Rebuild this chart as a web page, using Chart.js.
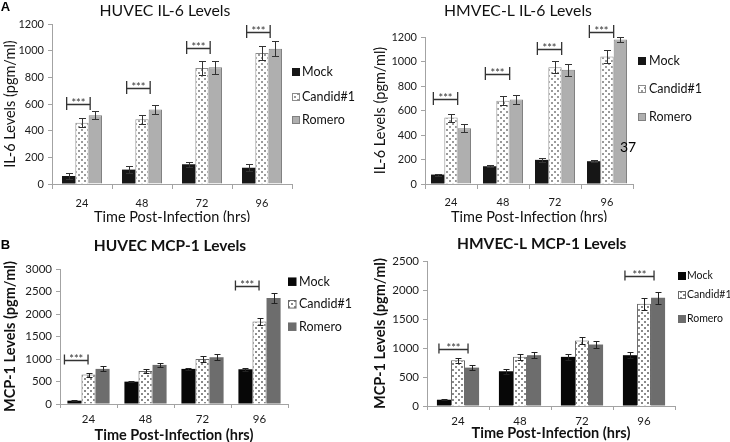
<!DOCTYPE html>
<html><head><meta charset="utf-8">
<script src="https://cdn.jsdelivr.net/npm/chart.js@4"></script>
<style>
html,body{margin:0;padding:0;background:#fff;}
#wrap{position:relative;width:730px;height:442px;overflow:hidden;background:#fff;}
canvas{position:absolute;display:block;}
</style></head><body>
<div id="wrap">
<canvas id="cA1" width="365" height="222" style="left:0;top:0"></canvas>
<canvas id="cA2" width="365" height="222" style="left:365px;top:0"></canvas>
<canvas id="cB1" width="365" height="220" style="left:0;top:222px"></canvas>
<canvas id="cB2" width="365" height="220" style="left:365px;top:222px"></canvas>
</div>
<script>
const FONT = 'Lato, "Open Sans", sans-serif';
const categories = ['24','48','72','96'];
const seriesNames = ['Mock','Candid#1','Romero'];
const panelTitles = ['HUVEC IL-6 Levels','HMVEC-L IL-6 Levels','HUVEC MCP-1 Levels','HMVEC-L MCP-1 Levels'];
const xAxisTitle = 'Time Post-Infection (hrs)';
const il6AxisTitle = 'IL-6 Levels (pgm/ml)';
const mcp1AxisTitle = 'MCP-1 Levels (pgm/ml)';
const panelLetters = ['A','B'];
const strayLabel = '37';
const sigMark = '***';

// Panel A (left): HUVEC IL-6
const huvecIL6Mock   = [60, 108, 148, 122];
const huvecIL6Candid = [460, 485, 870, 982];
const huvecIL6Romero = [515, 558, 875, 1015];
const huvecIL6MockErr   = [22, 25, 20, 28];
const huvecIL6CandidErr = [35, 32, 50, 55];
const huvecIL6RomeroErr = [30, 35, 50, 58];
const huvecIL6SigCats   = [0, 1, 2, 3];
const huvecIL6SigLevels = [600, 720, 1020, 1140];

// Panel A (right): HMVEC-L IL-6
const hmvecIL6Mock   = [77, 145, 197, 186];
const hmvecIL6Candid = [542, 680, 953, 1041];
const hmvecIL6Romero = [455, 690, 932, 1180];
const hmvecIL6MockErr   = [8, 10, 15, 10];
const hmvecIL6CandidErr = [33, 35, 47, 55];
const hmvecIL6RomeroErr = [33, 38, 48, 22];
const hmvecIL6SigCats   = [0, 1, 2, 3];
const hmvecIL6SigLevels = [693, 899, 1104, 1241];

// Panel B (left): HUVEC MCP-1
const huvecMCP1Mock   = [74, 497, 780, 772];
const huvecMCP1Candid = [655, 735, 1002, 1834];
const huvecMCP1Romero = [780, 869, 1039, 2353];
const huvecMCP1MockErr   = [10, 15, 30, 30];
const huvecMCP1CandidErr = [45, 50, 65, 85];
const huvecMCP1RomeroErr = [55, 50, 65, 110];
const huvecMCP1SigCats   = [0, 3];
const huvecMCP1SigLevels = [980, 2630];

// Panel B (right): HMVEC-L MCP-1
const hmvecMCP1Mock   = [108, 599, 847, 876];
const hmvecMCP1Candid = [789, 847, 1129, 1763];
const hmvecMCP1Romero = [662, 876, 1060, 1866];
const hmvecMCP1MockErr   = [5, 45, 50, 55];
const hmvecMCP1CandidErr = [40, 55, 62, 100];
const hmvecMCP1RomeroErr = [40, 48, 58, 100];
const hmvecMCP1SigCats   = [0, 3];
const hmvecMCP1SigLevels = [991, 2241];

// y-axis ranges [min, max, step]
const il6Range = [0, 1200, 200];
const huvecMCP1Range = [0, 3000, 500];
const hmvecMCP1Range = [0, 2500, 500];

function makePattern(bg, dot){
  const c = document.createElement('canvas'); c.width = 6; c.height = 6;
  const x = c.getContext('2d');
  x.fillStyle = bg; x.fillRect(0,0,6,6);
  x.fillStyle = dot; x.fillRect(0,0,2,2); x.fillRect(3,3,2,2);
  return x.createPattern(c, 'repeat');
}

const decor = {
  id: 'decor',
  afterDatasetsDraw(chart, args, o){
    const ctx = chart.ctx, y = chart.scales.y;
    ctx.save();
    // error bars
    o.errors.forEach((errs, di) => {
      const meta = chart.getDatasetMeta(di);
      meta.data.forEach((bar, i) => {
        const v = chart.data.datasets[di].data[i], e = errs[i];
        const yt = Math.round(y.getPixelForValue(v + e)) + 0.5;
        const yb = Math.round(y.getPixelForValue(Math.max(0, v - e))) + 0.5;
        const x = Math.round(bar.x) + 0.5;
        ctx.strokeStyle = o.errColor; ctx.lineWidth = 1;
        ctx.beginPath();
        ctx.moveTo(x, yt); ctx.lineTo(x, yb);
        ctx.moveTo(x - o.cap, yt); ctx.lineTo(x + o.cap, yt);
        ctx.moveTo(x - o.cap, yb); ctx.lineTo(x + o.cap, yb);
        ctx.stroke();
      });
    });
    // significance brackets
    const sg = o.sig;
    sg.cats.forEach((ci, k) => {
      const m = chart.getDatasetMeta(0).data[ci], c = chart.getDatasetMeta(1).data[ci];
      const x1 = m.x + sg.dx1, x2 = c.x + c.width / 2 + sg.dx2;
      const ly = Math.round(y.getPixelForValue(sg.levels[k])) + 0.5;
      ctx.strokeStyle = sg.color; ctx.lineWidth = 1.3;
      ctx.beginPath();
      ctx.moveTo(x1, ly); ctx.lineTo(x2, ly);
      ctx.moveTo(x1, ly - sg.up); ctx.lineTo(x1, ly + sg.down);
      ctx.moveTo(x2, ly - sg.up); ctx.lineTo(x2, ly + sg.down);
      ctx.stroke();
      ctx.fillStyle = sg.color; ctx.font = sg.font;
      ctx.textAlign = 'center'; ctx.textBaseline = 'alphabetic';
      ctx.fillText(sigMark, (x1 + x2) / 2, ly + sg.textDy);
    });
    ctx.restore();
  },
  afterDraw(chart, args, o){
    const ctx = chart.ctx;
    ctx.save();
    // title
    ctx.fillStyle = '#111'; ctx.font = o.title.font;
    ctx.textAlign = 'center'; ctx.textBaseline = 'middle';
    ctx.fillText(o.title.text, o.title.x, o.title.y);
    // legend
    const L = o.legend;
    chart.data.datasets.forEach((ds, i) => {
      const cy = L.ys[i];
      ctx.fillStyle = ds.backgroundColor;
      ctx.fillRect(L.sx, cy - L.size / 2, L.size, L.size);
      if (ds.borderWidth) {
        ctx.strokeStyle = ds.borderColor; ctx.lineWidth = 1;
        ctx.strokeRect(L.sx + 0.5, cy - L.size / 2 + 0.5, L.size - 1, L.size - 1);
      }
      ctx.fillStyle = '#111'; ctx.font = L.font;
      ctx.textAlign = 'left'; ctx.textBaseline = 'middle';
      ctx.fillText(ds.label, L.tx, cy);
    });
    // extra texts
    (o.extra || []).forEach(t => {
      ctx.fillStyle = '#000'; ctx.font = t.font;
      ctx.textAlign = 'center'; ctx.textBaseline = 'middle';
      ctx.fillText(t.text, t.x, t.y);
    });
    ctx.restore();
  }
};

function panel(id, p){
  const datasets = p.values.map((vals, k) => ({
    label: seriesNames[k], data: vals,
    backgroundColor: p.fills[k], borderColor: p.borders[k], borderWidth: p.bw[k],
    categoryPercentage: p.catPct, barPercentage: 1, borderSkipped: 'start'
  }));
  const axisColor = '#a3a3a3';
  return new Chart(document.getElementById(id), {
    type: 'bar',
    data: { labels: categories, datasets },
    options: {
      responsive: false, animation: false, devicePixelRatio: 1,
      layout: { padding: { left: 0, right: p.padR, top: p.padT, bottom: 0 } },
      plugins: {
        legend: { display: false }, tooltip: { enabled: false }, title: { display: false },
        decor: {
          errors: p.errors, errColor: p.errColor, cap: p.cap,
          sig: p.sig, title: p.title, legend: p.legend, extra: p.extra
        }
      },
      scales: {
        x: {
          grid: { offset: true, drawOnChartArea: false, tickLength: p.xTick, color: axisColor },
          border: { color: axisColor },
          ticks: { font: p.tickFont, color: '#1a1a1a', padding: p.xPad },
          title: { display: true, text: xAxisTitle, font: p.axisFont, color: '#111', padding: { top: 0, bottom: p.xTitlePb } },
          afterFit(s){ s.height = p.xH; }
        },
        y: {
          min: p.range[0], max: p.range[1],
          grid: { drawOnChartArea: false, tickLength: 4, color: axisColor },
          border: { color: axisColor },
          ticks: { stepSize: p.range[2], font: p.tickFont, color: '#1a1a1a', padding: 4, callback: v => String(v) },
          title: { display: true, text: p.yTitle, font: p.axisFont, color: '#111', padding: { top: p.yTitlePt, bottom: 0 } },
          afterFit(s){ s.width = p.yW; }
        }
      }
    },
    plugins: [decor]
  });
}

const candidA = makePattern('#ffffff', '#9a9a9a');
const candidB = makePattern('#ffffff', '#8a8a8a');
const fillsA = ['#161616', candidA, '#afafaf'];
const bordersA = ['#161616', '#8c8c8c', '#808080'];
const fillsB = ['#070707', candidB, '#6d6d6d'];
const bordersB = ['#070707', '#6a6a6a', '#6d6d6d'];

const tickA = { family: FONT, size: 11 };
const axisA = { family: FONT, size: 14.5 };
const tickB = { family: FONT, size: 11.5 };
const axisB = { family: FONT, size: 14.5, weight: 'bold' };

panel('cA1', {
  values: [huvecIL6Mock, huvecIL6Candid, huvecIL6Romero],
  errors: [huvecIL6MockErr, huvecIL6CandidErr, huvecIL6RomeroErr],
  fills: fillsA, borders: bordersA, bw: [0, 1, 1], errColor: '#333', cap: 3.5,
  catPct: 0.667, range: il6Range, yTitle: il6AxisTitle,
  yW: 52, padR: 73, padT: 24, xH: 38, xTick: 5, xPad: 8, xTitlePb: -4, yTitlePt: 1.3,
  tickFont: tickA, axisFont: axisA,
  sig: { cats: huvecIL6SigCats, levels: huvecIL6SigLevels, dx1: -2, dx2: 1.5, up: 7.5, down: 5.5, textDy: 2, color: '#333', font: '11px ' + FONT },
  title: { text: panelTitles[0], x: 165, y: 10.5, font: '15.8px ' + FONT },
  legend: { sx: 292, tx: 302, ys: [72, 97, 120], size: 8, font: '12.5px ' + FONT },
  extra: [{ text: panelLetters[0], x: 5.5, y: 7, font: 'bold 13px "Liberation Sans", Arial, sans-serif' }]
});

panel('cA2', {
  values: [hmvecIL6Mock, hmvecIL6Candid, hmvecIL6Romero],
  errors: [hmvecIL6MockErr, hmvecIL6CandidErr, hmvecIL6RomeroErr],
  fills: fillsA, borders: bordersA, bw: [0, 1, 1], errColor: '#333', cap: 3.5,
  catPct: 0.77, range: il6Range, yTitle: il6AxisTitle,
  yW: 60, padR: 97, padT: 37, xH: 38, xTick: 5, xPad: 7, xTitlePb: -4, yTitlePt: 6.3,
  tickFont: tickA, axisFont: axisA,
  sig: { cats: hmvecIL6SigCats, levels: hmvecIL6SigLevels, dx1: -4.3, dx2: 0, up: 7.5, down: 5.5, textDy: 2, color: '#333', font: '11px ' + FONT },
  title: { text: panelTitles[1], x: 153, y: 11, font: '15.8px ' + FONT },
  legend: { sx: 273, tx: 284, ys: [61, 89, 117], size: 8, font: '12.5px ' + FONT },
  extra: [{ text: strayLabel, x: 263, y: 147, font: '14px ' + FONT }]
});

panel('cB1', {
  values: [huvecMCP1Mock, huvecMCP1Candid, huvecMCP1Romero],
  errors: [huvecMCP1MockErr, huvecMCP1CandidErr, huvecMCP1RomeroErr],
  fills: fillsB, borders: bordersB, bw: [0, 1, 0], errColor: '#222', cap: 3,
  catPct: 0.74, range: huvecMCP1Range, yTitle: mcp1AxisTitle,
  yW: 60, padR: 77, padT: 47, xH: 38, xTick: 4, xPad: 4, xTitlePb: -2, yTitlePt: 1.3,
  tickFont: tickB, axisFont: axisB,
  sig: { cats: huvecMCP1SigCats, levels: huvecMCP1SigLevels, dx1: -10, dx2: -7.5, up: 6, down: 4, textDy: 2, color: '#333', font: '11px ' + FONT },
  title: { text: panelTitles[2], x: 170, y: 23.5, font: 'bold 15.5px ' + FONT },
  legend: { sx: 288, tx: 299, ys: [59.7, 82.3, 104.7], size: 8.5, font: '12.5px ' + FONT },
  extra: [{ text: panelLetters[1], x: 5.5, y: 23, font: 'bold 13px "Liberation Sans", Arial, sans-serif' }]
});

panel('cB2', {
  values: [hmvecMCP1Mock, hmvecMCP1Candid, hmvecMCP1Romero],
  errors: [hmvecMCP1MockErr, hmvecMCP1CandidErr, hmvecMCP1RomeroErr],
  fills: fillsB, borders: bordersB, bw: [0, 1, 0], errColor: '#222', cap: 3,
  catPct: 0.68, range: hmvecMCP1Range, yTitle: mcp1AxisTitle,
  yW: 62, padR: 55, padT: 39, xH: 36, xTick: 4, xPad: 4, xTitlePb: 0, yTitlePt: 6.3,
  tickFont: tickB, axisFont: axisB,
  sig: { cats: hmvecMCP1SigCats, levels: hmvecMCP1SigLevels, dx1: -5, dx2: 3, up: 6, down: 4, textDy: 2, color: '#333', font: '11px ' + FONT },
  title: { text: panelTitles[3], x: 176.7, y: 22, font: 'bold 15.5px ' + FONT },
  legend: { sx: 313, tx: 322, ys: [54, 73, 97], size: 8, font: '10.5px ' + FONT },
  extra: []
});
</script>
</body></html>
